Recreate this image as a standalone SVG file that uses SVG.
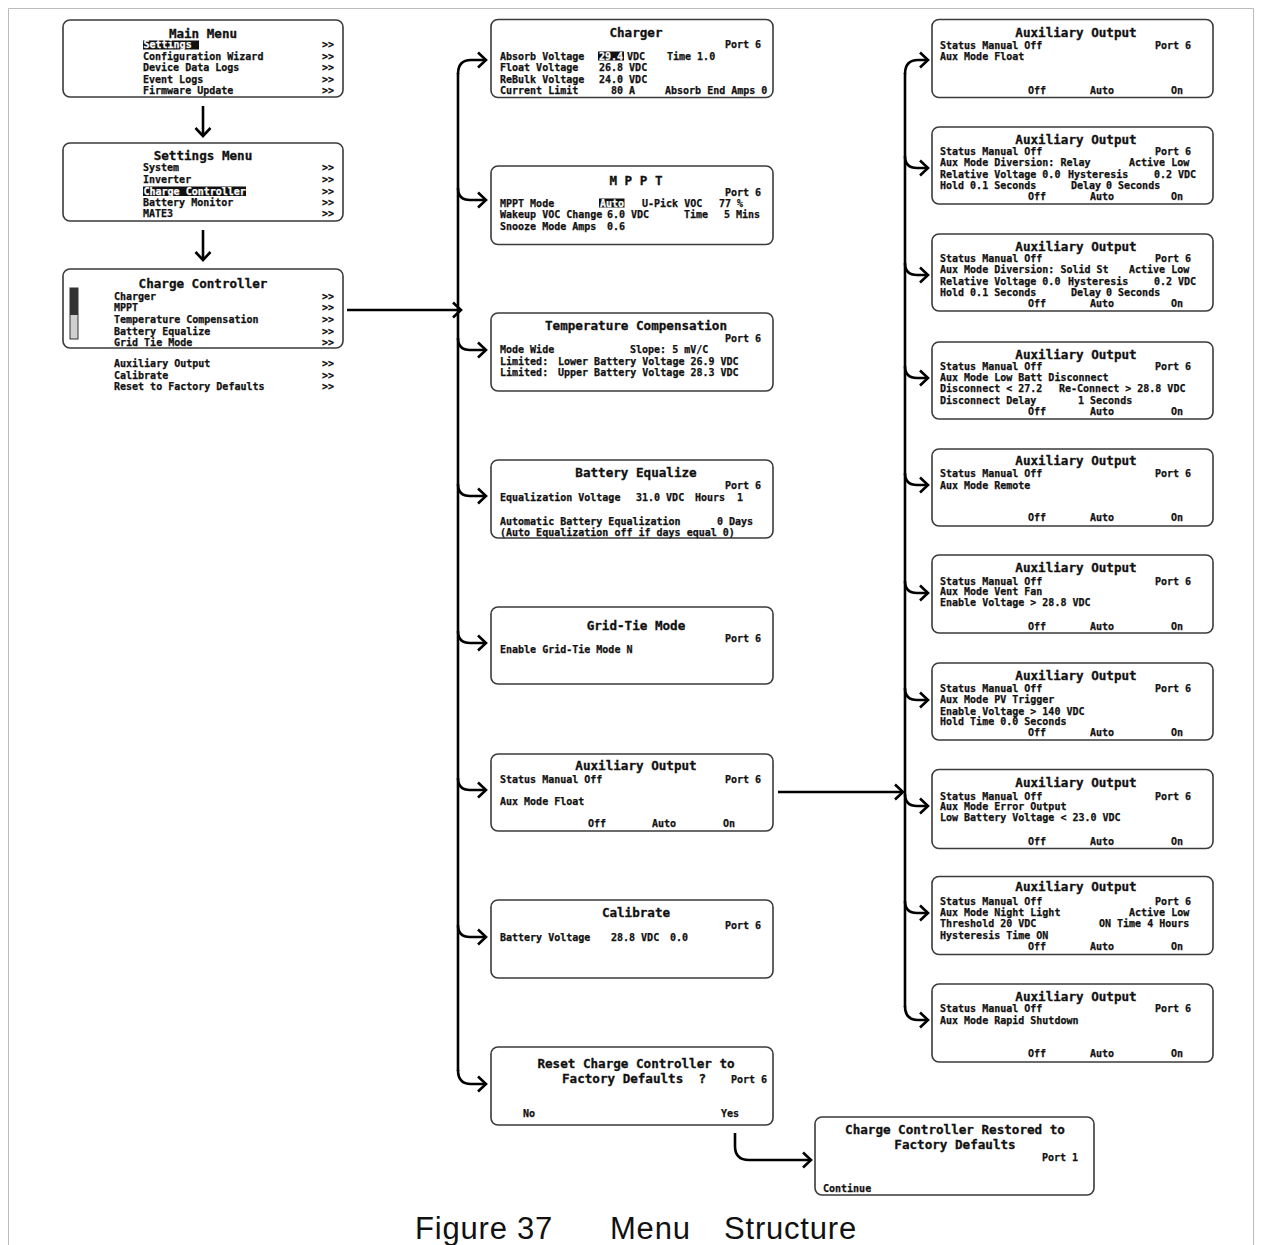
<svg xmlns="http://www.w3.org/2000/svg" width="1262" height="1245" viewBox="0 0 1262 1245">
<style>
.box{fill:#fff;stroke:#3a3a3a;stroke-width:1.6}
.b{font-family:"DejaVu Sans Mono","Liberation Mono",monospace;font-weight:bold;font-size:10px;fill:#111;stroke:#111;stroke-width:0.25;white-space:pre}
.ti{font-size:12.6px;text-anchor:middle;stroke-width:0.3}
.inv{fill:#fff;stroke:#fff}
.hl{fill:#111}
.conn{fill:none;stroke:#000;stroke-width:2.6}
.cap{font-family:"Liberation Sans",Arial,sans-serif;font-size:31px;letter-spacing:0.8px;fill:#111;white-space:pre}
</style>
<defs>
<marker id="ah" markerUnits="userSpaceOnUse" viewBox="0 0 14 18" markerWidth="14" markerHeight="18" refX="11" refY="9" orient="auto">
<path d="M3,1.5 L11,9 L3,16.5" fill="none" stroke="#000" stroke-width="2.6"/>
</marker>
</defs>
<rect width="1262" height="1245" fill="#fff"/>
<path d="M8.5,1245 L8.5,8.5 L1253.5,8.5 L1253.5,1245" fill="none" stroke="#bbb" stroke-width="1"/>

<g id="connectors">
<path class="conn" d="M203,106 L203,136" marker-end="url(#ah)"/>
<path class="conn" d="M203,230 L203,260" marker-end="url(#ah)"/>
<path class="conn" d="M347,310 L461,310" marker-end="url(#ah)"/>
<path class="conn" d="M458,73 L458,1071"/>
<path class="conn" d="M458,74 Q458,60 471,60 L486,60" marker-end="url(#ah)"/>
<path class="conn" d="M458,188 Q458,200 470,200 L486,200" marker-end="url(#ah)"/>
<path class="conn" d="M458,338 Q458,350 470,350 L486,350" marker-end="url(#ah)"/>
<path class="conn" d="M458,484 Q458,496 470,496 L486,496" marker-end="url(#ah)"/>
<path class="conn" d="M458,631 Q458,643 470,643 L486,643" marker-end="url(#ah)"/>
<path class="conn" d="M458,778 Q458,790 470,790 L486,790" marker-end="url(#ah)"/>
<path class="conn" d="M458,925 Q458,937 470,937 L486,937" marker-end="url(#ah)"/>
<path class="conn" d="M458,1070 Q458,1084 471,1084 L486,1084" marker-end="url(#ah)"/>
<path class="conn" d="M778,792 L903,792" marker-end="url(#ah)"/>
<path class="conn" d="M905,73 L905,1007"/>
<path class="conn" d="M905,74 Q905,60 918,60 L928,60" marker-end="url(#ah)"/>
<path class="conn" d="M905,156 Q905,168 917,168 L928,168" marker-end="url(#ah)"/>
<path class="conn" d="M905,263 Q905,275 917,275 L928,275" marker-end="url(#ah)"/>
<path class="conn" d="M905,366 Q905,378 917,378 L928,378" marker-end="url(#ah)"/>
<path class="conn" d="M905,473 Q905,485 917,485 L928,485" marker-end="url(#ah)"/>
<path class="conn" d="M905,581 Q905,593 917,593 L928,593" marker-end="url(#ah)"/>
<path class="conn" d="M905,688 Q905,700 917,700 L928,700" marker-end="url(#ah)"/>
<path class="conn" d="M905,794 Q905,806 917,806 L928,806" marker-end="url(#ah)"/>
<path class="conn" d="M905,901 Q905,913 917,913 L928,913" marker-end="url(#ah)"/>
<path class="conn" d="M905,1006 Q905,1020 918,1020 L928,1020" marker-end="url(#ah)"/>
<path class="conn" d="M735,1133 L735,1146 Q735,1160 749,1160 L811,1160" marker-end="url(#ah)"/>
</g>

<g id="main-menu">
<rect class="box" x="63" y="20" width="280" height="77" rx="7"/>
<text class="b ti" x="203" y="38">Main Menu</text>
<rect class="hl" x="143" y="40.5" width="56" height="9"/>
<text class="b inv" x="143.5" y="48">Settings</text>
<text class="b" x="143" y="59.5">Configuration Wizard</text>
<text class="b" x="143" y="71">Device Data Logs</text>
<text class="b" x="143" y="82.5">Event Logs</text>
<text class="b" x="143" y="94">Firmware Update</text>
<text class="b" x="322" y="48">&gt;&gt;</text>
<text class="b" x="322" y="59.5">&gt;&gt;</text>
<text class="b" x="322" y="71">&gt;&gt;</text>
<text class="b" x="322" y="82.5">&gt;&gt;</text>
<text class="b" x="322" y="94">&gt;&gt;</text>
</g>

<g id="settings-menu">
<rect class="box" x="63" y="143" width="280" height="78" rx="7"/>
<text class="b ti" x="203" y="160">Settings Menu</text>
<text class="b" x="143" y="170.5">System</text>
<text class="b" x="143" y="182.5">Inverter</text>
<rect class="hl" x="143" y="186.5" width="103" height="9.5"/>
<text class="b inv" x="143.5" y="194.5">Charge Controller</text>
<text class="b" x="143" y="206">Battery Monitor</text>
<text class="b" x="143" y="217">MATE3</text>
<text class="b" x="322" y="170.5">&gt;&gt;</text>
<text class="b" x="322" y="182.5">&gt;&gt;</text>
<text class="b" x="322" y="194.5">&gt;&gt;</text>
<text class="b" x="322" y="206">&gt;&gt;</text>
<text class="b" x="322" y="217">&gt;&gt;</text>
</g>

<g id="charge-controller">
<rect class="box" x="63" y="269" width="280" height="79" rx="7"/>
<text class="b ti" x="203" y="288">Charge Controller</text>
<rect x="70" y="288" width="8" height="51" fill="#d0d0d0" stroke="#333" stroke-width="1"/>
<rect x="70" y="288" width="8" height="27" fill="#333"/>
<text class="b" x="114" y="299.5">Charger</text>
<text class="b" x="114" y="311">MPPT</text>
<text class="b" x="114" y="323">Temperature Compensation</text>
<text class="b" x="114" y="334.5">Battery Equalize</text>
<text class="b" x="114" y="346">Grid Tie Mode</text>
<text class="b" x="322" y="299.5">&gt;&gt;</text>
<text class="b" x="322" y="311">&gt;&gt;</text>
<text class="b" x="322" y="323">&gt;&gt;</text>
<text class="b" x="322" y="334.5">&gt;&gt;</text>
<text class="b" x="322" y="346">&gt;&gt;</text>
<text class="b" x="114" y="367">Auxiliary Output</text>
<text class="b" x="114" y="378.5">Calibrate</text>
<text class="b" x="114" y="390">Reset to Factory Defaults</text>
<text class="b" x="322" y="367">&gt;&gt;</text>
<text class="b" x="322" y="378.5">&gt;&gt;</text>
<text class="b" x="322" y="390">&gt;&gt;</text>
</g>

<g id="charger">
<rect class="box" x="491" y="19.5" width="282" height="78" rx="7"/>
<text class="b ti" x="636" y="37">Charger</text>
<text class="b" x="725" y="48">Port 6</text>
<text class="b" x="500" y="59.5">Absorb Voltage</text>
<rect class="hl" x="598" y="51.5" width="26" height="9"/>
<text class="b inv" x="599" y="59.5">29.4</text>
<text class="b" x="627" y="59.5">VDC</text>
<text class="b" x="667" y="59.5">Time 1.0</text>
<text class="b" x="500" y="71">Float Voltage</text>
<text class="b" x="599" y="71">26.8 VDC</text>
<text class="b" x="500" y="82.5">ReBulk Voltage</text>
<text class="b" x="599" y="82.5">24.0 VDC</text>
<text class="b" x="500" y="93.5">Current Limit</text>
<text class="b" x="611" y="93.5">80 A</text>
<text class="b" x="665" y="93.5">Absorb End Amps 0</text>
</g>

<g id="mppt">
<rect class="box" x="491" y="166" width="282" height="78.5" rx="7"/>
<text class="b ti" x="636" y="184.5">M P P T</text>
<text class="b" x="725" y="195.5">Port 6</text>
<text class="b" x="500" y="206.5">MPPT Mode</text>
<rect class="hl" x="599" y="198.5" width="25.5" height="9"/>
<text class="b inv" x="600" y="206.5">Auto</text>
<text class="b" x="642" y="206.5">U-Pick VOC</text>
<text class="b" x="719" y="206.5">77 %</text>
<text class="b" x="500" y="217.5">Wakeup VOC Change</text>
<text class="b" x="607" y="217.5">6.0 VDC</text>
<text class="b" x="684" y="217.5">Time</text>
<text class="b" x="724" y="217.5">5 Mins</text>
<text class="b" x="500" y="229.5">Snooze Mode Amps</text>
<text class="b" x="607" y="229.5">0.6</text>
</g>

<g id="temperature-compensation">
<rect class="box" x="491" y="313" width="282" height="78" rx="7"/>
<text class="b ti" x="636" y="330">Temperature Compensation</text>
<text class="b" x="725" y="342">Port 6</text>
<text class="b" x="500" y="353">Mode Wide</text>
<text class="b" x="630" y="353">Slope: 5 mV/C</text>
<text class="b" x="500" y="364.5">Limited:</text>
<text class="b" x="558" y="364.5">Lower Battery Voltage 26.9 VDC</text>
<text class="b" x="500" y="376">Limited:</text>
<text class="b" x="558" y="376">Upper Battery Voltage 28.3 VDC</text>
</g>

<g id="battery-equalize">
<rect class="box" x="491" y="460" width="282" height="78" rx="7"/>
<text class="b ti" x="636" y="477">Battery Equalize</text>
<text class="b" x="725" y="489">Port 6</text>
<text class="b" x="500" y="501">Equalization Voltage</text>
<text class="b" x="636" y="501">31.0 VDC</text>
<text class="b" x="695" y="501">Hours</text>
<text class="b" x="737" y="501">1</text>
<text class="b" x="500" y="524.5">Automatic Battery Equalization</text>
<text class="b" x="717" y="524.5">0 Days</text>
<text class="b" x="500" y="536">(Auto Equalization off if days equal 0)</text>
</g>

<g id="grid-tie-mode">
<rect class="box" x="491" y="607" width="282" height="77" rx="7"/>
<text class="b ti" x="636" y="629.5">Grid-Tie Mode</text>
<text class="b" x="725" y="641.5">Port 6</text>
<text class="b" x="500" y="653">Enable Grid-Tie Mode N</text>
</g>

<g id="auxiliary-output-main">
<rect class="box" x="491" y="754" width="282" height="77" rx="7"/>
<text class="b ti" x="636" y="770">Auxiliary Output</text>
<text class="b" x="500" y="782.5">Status Manual Off</text>
<text class="b" x="725" y="782.5">Port 6</text>
<text class="b" x="500" y="805">Aux Mode Float</text>
<text class="b" x="588" y="827">Off</text>
<text class="b" x="652" y="827">Auto</text>
<text class="b" x="723" y="827">On</text>
</g>

<g id="calibrate">
<rect class="box" x="491" y="900" width="282" height="78" rx="7"/>
<text class="b ti" x="636" y="917">Calibrate</text>
<text class="b" x="725" y="929">Port 6</text>
<text class="b" x="500" y="940.5">Battery Voltage</text>
<text class="b" x="611" y="940.5">28.8 VDC</text>
<text class="b" x="670" y="940.5">0.0</text>
</g>

<g id="reset-factory-defaults">
<rect class="box" x="491" y="1047" width="282" height="78" rx="7"/>
<text class="b ti" x="636" y="1068">Reset Charge Controller to</text>
<text class="b ti" x="634" y="1083">Factory Defaults  ?</text>
<text class="b" x="731" y="1083">Port 6</text>
<text class="b" x="523" y="1117">No</text>
<text class="b" x="721" y="1117">Yes</text>
</g>

<g id="restored">
<rect class="box" x="815" y="1117" width="279" height="78" rx="7"/>
<text class="b ti" x="955" y="1133.5">Charge Controller Restored to</text>
<text class="b ti" x="955" y="1148.5">Factory Defaults</text>
<text class="b" x="1042" y="1160.5">Port 1</text>
<text class="b" x="823" y="1191.5">Continue</text>
</g>

<g id="aux-float">
<rect class="box" x="932" y="19.5" width="281" height="78" rx="7"/>
<text class="b ti" x="1076" y="37">Auxiliary Output</text>
<text class="b" x="940" y="49">Status Manual Off</text>
<text class="b" x="1155" y="49">Port 6</text>
<text class="b" x="940" y="60">Aux Mode Float</text>
<text class="b" x="1028" y="94">Off</text>
<text class="b" x="1090" y="94">Auto</text>
<text class="b" x="1171" y="94">On</text>
</g>

<g id="aux-diversion-relay">
<rect class="box" x="932" y="127" width="281" height="77" rx="7"/>
<text class="b ti" x="1076" y="144">Auxiliary Output</text>
<text class="b" x="940" y="155">Status Manual Off</text>
<text class="b" x="1155" y="155">Port 6</text>
<text class="b" x="940" y="166">Aux Mode Diversion: Relay</text>
<text class="b" x="1129" y="166">Active Low</text>
<text class="b" x="940" y="177.5">Relative Voltage 0.0</text>
<text class="b" x="1068" y="177.5">Hysteresis</text>
<text class="b" x="1154" y="177.5">0.2 VDC</text>
<text class="b" x="940" y="189">Hold 0.1 Seconds</text>
<text class="b" x="1071" y="189">Delay</text>
<text class="b" x="1106" y="189">0 Seconds</text>
<text class="b" x="1028" y="200">Off</text>
<text class="b" x="1090" y="200">Auto</text>
<text class="b" x="1171" y="200">On</text>
</g>

<g id="aux-diversion-solid">
<rect class="box" x="932" y="234" width="281" height="77" rx="7"/>
<text class="b ti" x="1076" y="250.5">Auxiliary Output</text>
<text class="b" x="940" y="262">Status Manual Off</text>
<text class="b" x="1155" y="262">Port 6</text>
<text class="b" x="940" y="273">Aux Mode Diversion: Solid St</text>
<text class="b" x="1129" y="273">Active Low</text>
<text class="b" x="940" y="284.5">Relative Voltage 0.0</text>
<text class="b" x="1068" y="284.5">Hysteresis</text>
<text class="b" x="1154" y="284.5">0.2 VDC</text>
<text class="b" x="940" y="296">Hold 0.1 Seconds</text>
<text class="b" x="1071" y="296">Delay</text>
<text class="b" x="1106" y="296">0 Seconds</text>
<text class="b" x="1028" y="307">Off</text>
<text class="b" x="1090" y="307">Auto</text>
<text class="b" x="1171" y="307">On</text>
</g>

<g id="aux-low-batt">
<rect class="box" x="932" y="342" width="281" height="77" rx="7"/>
<text class="b ti" x="1076" y="358.5">Auxiliary Output</text>
<text class="b" x="940" y="369.5">Status Manual Off</text>
<text class="b" x="1155" y="369.5">Port 6</text>
<text class="b" x="940" y="380.5">Aux Mode Low Batt Disconnect</text>
<text class="b" x="940" y="392">Disconnect &lt; 27.2</text>
<text class="b" x="1059" y="392">Re-Connect &gt; 28.8 VDC</text>
<text class="b" x="940" y="403.5">Disconnect Delay</text>
<text class="b" x="1078" y="403.5">1 Seconds</text>
<text class="b" x="1028" y="415">Off</text>
<text class="b" x="1090" y="415">Auto</text>
<text class="b" x="1171" y="415">On</text>
</g>

<g id="aux-remote">
<rect class="box" x="932" y="449" width="281" height="77" rx="7"/>
<text class="b ti" x="1076" y="464.5">Auxiliary Output</text>
<text class="b" x="940" y="477">Status Manual Off</text>
<text class="b" x="1155" y="477">Port 6</text>
<text class="b" x="940" y="488.5">Aux Mode Remote</text>
<text class="b" x="1028" y="521">Off</text>
<text class="b" x="1090" y="521">Auto</text>
<text class="b" x="1171" y="521">On</text>
</g>

<g id="aux-vent-fan">
<rect class="box" x="932" y="555" width="281" height="78" rx="7"/>
<text class="b ti" x="1076" y="572">Auxiliary Output</text>
<text class="b" x="940" y="584.5">Status Manual Off</text>
<text class="b" x="1155" y="584.5">Port 6</text>
<text class="b" x="940" y="595">Aux Mode Vent Fan</text>
<text class="b" x="940" y="606">Enable Voltage &gt; 28.8 VDC</text>
<text class="b" x="1028" y="629.5">Off</text>
<text class="b" x="1090" y="629.5">Auto</text>
<text class="b" x="1171" y="629.5">On</text>
</g>

<g id="aux-pv-trigger">
<rect class="box" x="932" y="663" width="281" height="77" rx="7"/>
<text class="b ti" x="1076" y="679.5">Auxiliary Output</text>
<text class="b" x="940" y="692">Status Manual Off</text>
<text class="b" x="1155" y="692">Port 6</text>
<text class="b" x="940" y="703">Aux Mode PV Trigger</text>
<text class="b" x="940" y="714.5">Enable Voltage &gt; 140 VDC</text>
<text class="b" x="940" y="725">Hold Time 0.0 Seconds</text>
<text class="b" x="1028" y="736">Off</text>
<text class="b" x="1090" y="736">Auto</text>
<text class="b" x="1171" y="736">On</text>
</g>

<g id="aux-error-output">
<rect class="box" x="932" y="769.5" width="281" height="79" rx="7"/>
<text class="b ti" x="1076" y="787">Auxiliary Output</text>
<text class="b" x="940" y="799.5">Status Manual Off</text>
<text class="b" x="1155" y="799.5">Port 6</text>
<text class="b" x="940" y="809.5">Aux Mode Error Output</text>
<text class="b" x="940" y="821">Low Battery Voltage &lt; 23.0 VDC</text>
<text class="b" x="1028" y="844.5">Off</text>
<text class="b" x="1090" y="844.5">Auto</text>
<text class="b" x="1171" y="844.5">On</text>
</g>

<g id="aux-night-light">
<rect class="box" x="932" y="876.5" width="281" height="78" rx="7"/>
<text class="b ti" x="1076" y="891">Auxiliary Output</text>
<text class="b" x="940" y="905">Status Manual Off</text>
<text class="b" x="1155" y="905">Port 6</text>
<text class="b" x="940" y="916">Aux Mode Night Light</text>
<text class="b" x="1129" y="916">Active Low</text>
<text class="b" x="940" y="927">Threshold 20 VDC</text>
<text class="b" x="1099" y="927">ON Time 4 Hours</text>
<text class="b" x="940" y="938.5">Hysteresis Time ON</text>
<text class="b" x="1028" y="950">Off</text>
<text class="b" x="1090" y="950">Auto</text>
<text class="b" x="1171" y="950">On</text>
</g>

<g id="aux-rapid-shutdown">
<rect class="box" x="932" y="984" width="281" height="78" rx="7"/>
<text class="b ti" x="1076" y="1000.5">Auxiliary Output</text>
<text class="b" x="940" y="1012">Status Manual Off</text>
<text class="b" x="1155" y="1012">Port 6</text>
<text class="b" x="940" y="1023.5">Aux Mode Rapid Shutdown</text>
<text class="b" x="1028" y="1057">Off</text>
<text class="b" x="1090" y="1057">Auto</text>
<text class="b" x="1171" y="1057">On</text>
</g>

<g id="caption">
<text class="cap" x="415" y="1239">Figure 37</text>
<text class="cap" x="610" y="1239">Menu</text>
<text class="cap" x="724" y="1239">Structure</text>
</g>
</svg>
